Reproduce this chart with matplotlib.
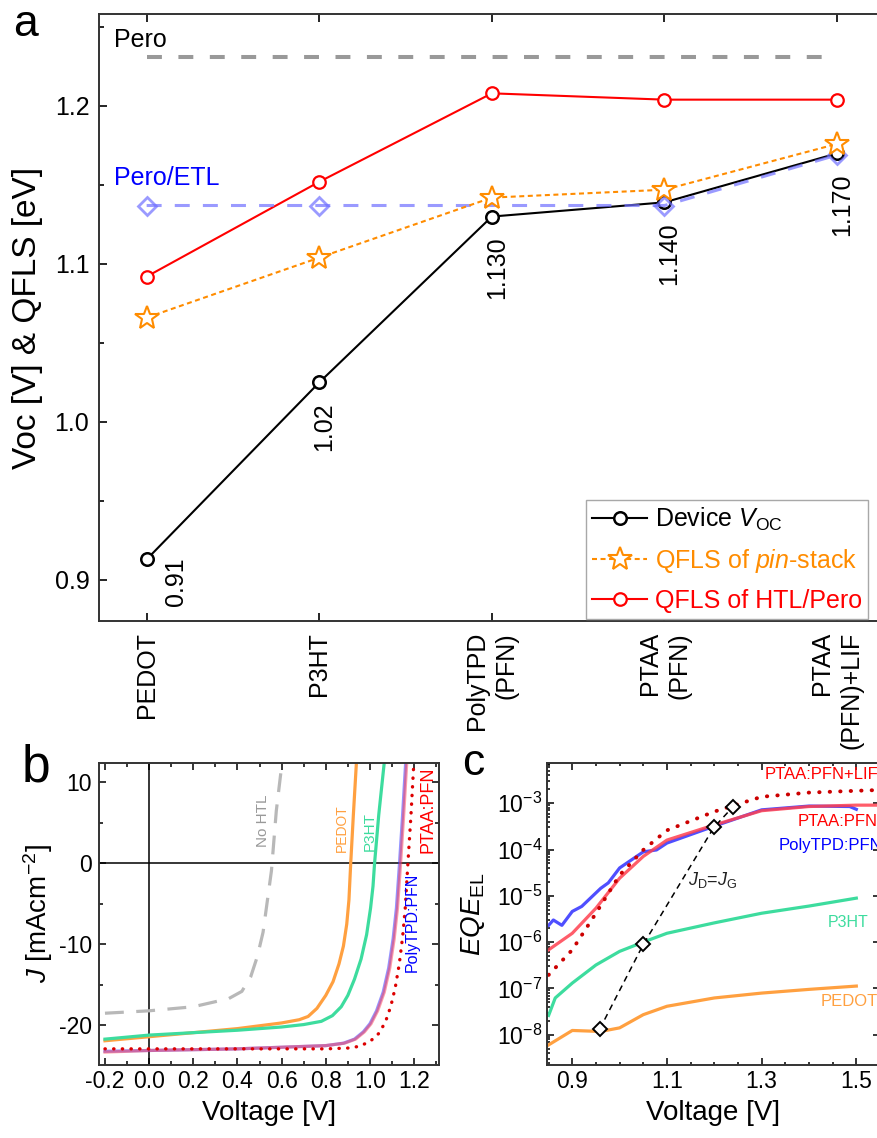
import matplotlib
matplotlib.use('Agg')
import numpy as np
import matplotlib.pyplot as plt
from matplotlib.ticker import MultipleLocator, FixedLocator, LogLocator, NullFormatter

plt.rcParams.update({
    'font.family': ['Liberation Sans', 'DejaVu Sans'],
    'mathtext.fontset': 'custom',
    'mathtext.rm': 'Liberation Sans',
    'mathtext.it': 'Liberation Sans:italic',
    'mathtext.bf': 'Liberation Sans:bold',
    'axes.unicode_minus': False,
    'axes.linewidth': 1.4,
    'axes.edgecolor': '#333333',
})

# ---- panel a data
htl = ['PEDOT', 'P3HT', 'PolyTPD\n(PFN)', 'PTAA\n(PFN)', 'PTAA\n(PFN)+LIF']
voc = [0.913, 1.025, 1.130, 1.139, 1.170]
voc_text = ['0.91', '1.02', '1.130', '1.140', '1.170']
qfls_pin = [1.066, 1.104, 1.142, 1.147, 1.176]
qfls_htl = [1.092, 1.152, 1.208, 1.204, 1.204]
qfls_etl = [1.137, 1.137, 1.137, 1.137, 1.169]
qfls_pero = 1.231

# ---- panel b data (J-V)
v_nohtl = [-0.2, 0.0, 0.2, 0.36, 0.42, 0.46, 0.49, 0.516, 0.554, 0.576, 0.60, 0.61]
j_nohtl = [-18.5, -18.2, -17.7, -16.7, -15.8, -14.0, -11.5, -8.5, -0.9, 6.5, 12.0, 13.5]
v_pedot = [-0.2, 0.0, 0.2, 0.4, 0.6, 0.68, 0.72, 0.76, 0.80, 0.833, 0.86, 0.88, 0.895, 0.905,
           0.913, 0.925, 0.94]
j_pedot = [-21.9, -21.4, -20.9, -20.4, -19.7, -19.3, -18.9, -17.9, -16.3, -14.6, -12.4, -10.2,
           -7.5, -4.5, 0.0, 6.0, 13.0]
v_p3ht = [-0.2, 0.0, 0.2, 0.4, 0.6, 0.7, 0.78, 0.83, 0.87, 0.90, 0.93, 0.96, 0.985, 1.003,
          1.014, 1.021, 1.04, 1.067]
j_p3ht = [-21.7, -21.2, -20.9, -20.6, -20.2, -19.9, -19.5, -18.8, -17.7, -16.3, -14.3, -11.8,
          -8.8, -5.5, -2.8, 0.0, 6.0, 13.0]
v_polytpd = [-0.2, 0.0, 0.4, 0.8, 0.88, 0.93, 0.97, 1.0, 1.03, 1.06, 1.085, 1.105, 1.12, 1.134,
             1.148, 1.163]
j_polytpd = [-23.2, -23.1, -22.9, -22.5, -22.2, -21.7, -20.8, -19.8, -18.2, -15.9, -12.9, -9.3,
             -5.5, 0.0, 6.0, 13.0]
v_ptaa = [-0.2, 0.0, 0.4, 0.8, 0.885, 0.935, 0.975, 1.005, 1.035, 1.065, 1.09, 1.11, 1.125, 1.139,
          1.153, 1.168]
j_ptaa = [-23.3, -23.1, -22.9, -22.5, -22.2, -21.7, -20.8, -19.8, -18.2, -15.9, -12.9, -9.3,
          -5.5, 0.0, 6.0, 13.0]
v_lif = [-0.2, 0.0, 0.4, 0.8, 0.9, 0.95, 1.0, 1.04, 1.07, 1.095, 1.115, 1.133, 1.148, 1.16,
         1.172, 1.186, 1.20]
j_lif = [-22.9, -22.9, -22.9, -22.9, -22.8, -22.6, -22.0, -21.0, -19.6, -17.6, -15.3, -12.4,
         -9.1, -5.5, 0.0, 6.0, 13.0]

# ---- panel c data (EQE_EL)
ve_pedot = [0.85, 0.90, 0.96, 1.00, 1.05, 1.10, 1.20, 1.30, 1.40, 1.50]
eqe_pedot = [6.0e-9, 1.23e-8, 1.17e-8, 1.4e-8, 2.7e-8, 4.1e-8, 6.2e-8, 7.9e-8, 9.5e-8, 1.12e-7]
ve_p3ht = [0.85, 0.864, 0.90, 0.95, 1.00, 1.05, 1.10, 1.20, 1.30, 1.40, 1.50]
eqe_p3ht = [2.6e-8, 6.2e-8, 1.3e-7, 3.2e-7, 6.3e-7, 1.0e-6, 1.55e-6, 2.6e-6, 4.2e-6, 6.0e-6, 8.9e-6]
ve_polytpd = [0.85, 0.86, 0.878, 0.90, 0.92, 0.96, 0.976, 1.00, 1.05, 1.078, 1.10, 1.20, 1.30, 1.40, 1.486, 1.50]
eqe_polytpd = [2.3e-6, 3.0e-6, 2.3e-6, 4.6e-6, 5.9e-6, 1.45e-5, 1.9e-5, 4.0e-5, 8.9e-5, 9.8e-5, 1.38e-4,
               3.2e-4, 7.2e-4, 8.7e-4, 8.5e-4, 7.4e-4]
ve_ptaa = [0.85, 0.90, 0.95, 1.00, 1.05, 1.10, 1.20, 1.30, 1.40, 1.50, 1.56]
eqe_ptaa = [6.8e-7, 1.55e-6, 5.4e-6, 2.4e-5, 7.1e-5, 1.6e-4, 3.4e-4, 6.9e-4, 8.5e-4, 9.1e-4, 9.1e-4]
ve_lif = [0.85, 0.90, 0.95, 1.00, 1.05, 1.10, 1.20, 1.30, 1.40, 1.50, 1.56]
eqe_lif = [1.95e-7, 6.8e-7, 4.2e-6, 2.8e-5, 9.8e-5, 2.6e-4, 6.6e-4, 1.38e-3, 1.7e-3, 1.86e-3, 1.95e-3]
v_jdjg = [0.958, 1.05, 1.199, 1.24]
eqe_jdjg = [1.32e-8, 8.9e-7, 3.0e-4, 8.5e-4]

c_pedot = '#ffa040'
c_p3ht = '#3ddc9e'
c_blue = '#3c3cff'
c_red = '#ff4050'

fig = plt.figure(figsize=(8.77, 11.38), dpi=100)

# ================= panel a
ax = fig.add_axes([0.1129, 0.4543, 0.8959, 0.5331])
x = np.arange(len(htl))
ax.plot(x[[0, -1]], [qfls_pero, qfls_pero], color='#999999', lw=2.9,
        ls=(0, (3.7, 4.1)), zorder=2)
ax.plot(x, qfls_htl, color='#ff0000', lw=1.5, marker='o', ms=9, mfc='white',
        mec='#ff0000', mew=1.6, zorder=3, label='QFLS of HTL/Pero')
ax.plot(x, voc, color='black', lw=1.5, marker='o', ms=9, mfc='white',
        mec='black', mew=1.8, zorder=3, label=r'Device $V_\mathrm{OC}$')
ax.plot(x, qfls_etl, color='#7070ff', alpha=0.7, lw=2.2, ls=(0, (4.9, 4.3)),
        marker='D', ms=9, mfc='none', mew=2, markevery=[0, 1, 3, 4], zorder=4)
ax.plot(x, qfls_pin, color='#ff8c00', lw=1.5, ls=(0, (2.4, 1.7)), marker='*',
        ms=18, mfc='white', mec='#ff8c00', mew=1.5, zorder=5,
        label=r'QFLS of $\mathit{pin}$-stack')

for i, t in enumerate(voc_text):
    off = (29, 2) if i == 0 else (5, -20)
    ax.annotate(t, (x[i], voc[i]), xytext=off, textcoords='offset pixels',
                rotation=90, ha='center', va='top', fontsize=18)

ax.text(-0.19, 1.2418, 'Pero', fontsize=18, color='black', va='center')
ax.text(-0.19, 1.1544, 'Pero/ETL', fontsize=18, color='#0000ff', va='center')

ax.set_xlim(-0.276, 4.276)
ax.set_ylim(0.874, 1.258)
ax.set_xticks(x)
ax.set_xticklabels(htl, rotation=90, ha='center', va='top', multialignment='right',
                   fontsize=18, linespacing=1.3)
ax.yaxis.set_major_locator(MultipleLocator(0.1))
ax.yaxis.set_minor_locator(MultipleLocator(0.05))
ax.tick_params(axis='both', which='both', direction='in', top=True, right=True, width=1.2)
ax.tick_params(axis='both', which='major', length=6)
ax.tick_params(axis='both', which='minor', length=3.5)
ax.tick_params(axis='y', labelsize=18, pad=7)
ax.tick_params(axis='x', pad=8)
ax.set_ylabel('Voc [V] & QFLS [eV]', fontsize=24, va='center')
ax.yaxis.set_label_coords(-0.091, 0.5)

h = ax.get_legend_handles_labels()[0]
order = [1, 2, 0]
leg = ax.legend([h[k] for k in order], [h[k].get_label() for k in order],
                loc='lower left', bbox_to_anchor=(0.62, 0.003), borderaxespad=0,
                fontsize=18, handlelength=2.2, handletextpad=0.3, labelspacing=0.55,
                borderpad=0.25, fancybox=False, framealpha=1, edgecolor='#a8a8a8',
                labelcolor='linecolor')
leg.get_frame().set_linewidth(1.0)

fig.text(13 / 877, 1 - 36 / 1138, 'a', fontsize=32, ha='left', va='baseline')

# ================= panel b
bx = fig.add_axes([0.1129, 0.0641, 0.3877, 0.2654])
bx.axhline(0, color='black', lw=1.1, zorder=1)
bx.axvline(0, color='black', lw=1.1, zorder=1)
bx.plot(v_nohtl, j_nohtl, color='#b8b8b8', lw=2.3, ls=(0, (5.9, 3.9)))
bx.plot(v_pedot, j_pedot, color=c_pedot, lw=2.3)
bx.plot(v_p3ht, j_p3ht, color=c_p3ht, lw=2.3)
bx.plot(v_polytpd, j_polytpd, color=c_blue, lw=2.3, alpha=0.55)
bx.plot(v_ptaa, j_ptaa, color=c_red, lw=2.3, alpha=0.5)
bx.plot(v_lif, j_lif, color='#dd0000', lw=2.4, ls=(0, (0.1, 2.5)), dash_capstyle='round')

bx.text(0.514, 5.3, 'No HTL', rotation=90, color='#999999', fontsize=11, ha='center', va='center')
bx.text(0.874, 4.4, 'PEDOT', rotation=90, color=c_pedot, fontsize=10, ha='center', va='center')
bx.text(0.999, 4.0, 'P3HT', rotation=90, color=c_p3ht, fontsize=11, ha='center', va='center')
bx.text(1.261, 6.6, 'PTAA:PFN', rotation=90, color='#ff0000', fontsize=13, ha='center', va='center')
bx.text(1.193, -7.3, 'PolyTPD:PFN', rotation=90, color='#0000ff', fontsize=11.5, ha='center', va='center')

bx.set_xlim(-0.227, 1.313)
bx.set_ylim(-24.9, 12.4)
bx.xaxis.set_major_locator(MultipleLocator(0.2))
bx.xaxis.set_minor_locator(MultipleLocator(0.1))
bx.yaxis.set_major_locator(MultipleLocator(10))
bx.yaxis.set_minor_locator(MultipleLocator(5))
bx.xaxis.set_major_formatter(matplotlib.ticker.FormatStrFormatter('%.1f'))
bx.tick_params(axis='both', which='both', direction='in', top=True, right=True, width=1.1)
bx.tick_params(axis='both', which='major', length=5, labelsize=16.5)
bx.tick_params(axis='both', which='minor', length=3)
bx.tick_params(axis='y', pad=5)
bx.set_xlabel('Voltage [V]', fontsize=20, labelpad=5)
bx.set_ylabel(r'$J$ [mAcm$^{-2}$]', fontsize=20, va='center')
bx.yaxis.set_label_coords(-0.18, 0.5)

fig.text(22 / 877, 1 - 782 / 1138, 'b', fontsize=37, ha='left', va='baseline')

# ================= panel c
cx = fig.add_axes([0.6234, 0.0641, 0.3800, 0.2654])
cx.plot(ve_pedot, eqe_pedot, color=c_pedot, lw=2.3)
cx.plot(ve_p3ht, eqe_p3ht, color=c_p3ht, lw=2.3)
cx.plot(ve_polytpd, eqe_polytpd, color=c_blue, lw=2.3, alpha=0.9)
cx.plot(ve_ptaa, eqe_ptaa, color=c_red, lw=2.3, alpha=0.85)
cx.plot(ve_lif, eqe_lif, color='#cc0000', lw=2.8, ls=(0, (0.1, 2.6)), dash_capstyle='round')
cx.plot(v_jdjg, eqe_jdjg, color='black', lw=1.1, ls=(0, (4, 3)), marker='D', ms=7.5,
        mfc='white', mec='black', mew=1.4, zorder=5)

cx.text(1.306, 4.1e-3, 'PTAA:PFN+LIF', color='#ff0000', fontsize=12, va='center')
cx.text(1.376, 4.0e-4, 'PTAA:PFN', color='#ff0000', fontsize=12, va='center')
cx.text(1.336, 1.2e-4, 'PolyTPD:PFN', color='#0000ff', fontsize=12, va='center')
cx.text(1.439, 2.6e-6, 'P3HT', color=c_p3ht, fontsize=11.5, va='center')
cx.text(1.424, 5.1e-8, 'PEDOT', color=c_pedot, fontsize=12, va='center')
cx.text(1.144, 2.2e-5, r'$J_\mathrm{D}$=$J_\mathrm{G}$', color='#222222', fontsize=13, va='center')

cx.set_yscale('log')
cx.set_xlim(0.846, 1.55)
cx.set_ylim(2.2e-9, 7.4e-3)
cx.xaxis.set_major_locator(FixedLocator([0.9, 1.1, 1.3, 1.5]))
cx.xaxis.set_minor_locator(MultipleLocator(0.05))
cx.xaxis.set_major_formatter(matplotlib.ticker.FormatStrFormatter('%.1f'))
cx.yaxis.set_major_locator(LogLocator(base=10, numticks=15))
cx.yaxis.set_minor_locator(LogLocator(base=10, subs=np.arange(2, 10), numticks=15))
cx.yaxis.set_minor_formatter(NullFormatter())
cx.tick_params(axis='both', which='both', direction='in', top=True, right=True, width=1.1)
cx.tick_params(axis='both', which='major', length=5, labelsize=16.5)
cx.tick_params(axis='both', which='minor', length=2.5)
cx.tick_params(axis='y', pad=3)
cx.set_xlabel('Voltage [V]', fontsize=20, labelpad=5)
cx.set_ylabel(r'$EQE_\mathrm{EL}$', fontsize=20, va='center')
cx.yaxis.set_label_coords(-0.22, 0.5)

fig.text(462 / 877, 1 - 775 / 1138, 'c', fontsize=32, ha='left', va='baseline')

fig.savefig('out.png', dpi=100)
